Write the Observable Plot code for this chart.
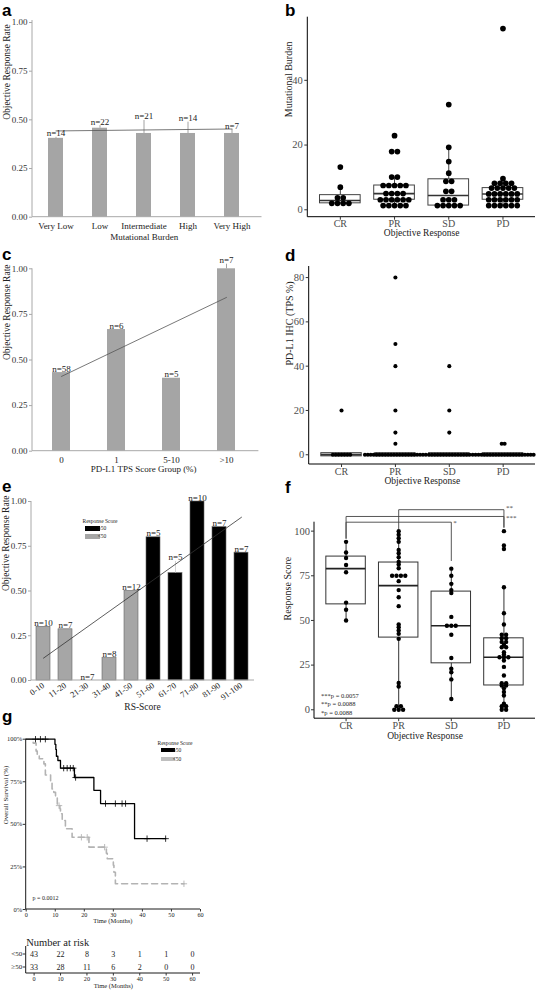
<!DOCTYPE html>
<html><head><meta charset="utf-8">
<script src="https://cdn.jsdelivr.net/npm/d3@7"></script>
<script src="https://cdn.jsdelivr.net/npm/@observablehq/plot@0.6"></script>
<style>
html,body{margin:0;padding:0;background:#fff;}
#fig{position:relative;width:537px;height:992px;overflow:hidden;background:#fff;}
</style></head><body><div id="fig"></div>
<script>
// ---------------- DATA ----------------
// panel a
const mbCats = ["Very Low", "Low", "Intermediate", "High", "Very High"];
const mbRate = [0.405, 0.457, 0.43, 0.43, 0.43];
const mbErrTop = [0.41, 0.47, 0.497, 0.488, 0.45];
const mbN = [14, 22, 21, 14, 7];
const mbTrend = [0.443, 0.453];
// panel b
const respCats = ["CR", "PR", "SD", "PD"];
const tmbCR = [13.2, 7, 3.7, 3.7, 2, 2, 2, 2];
const tmbPR = [22.9, 18, 18, 10.1, 10.1, 7.5, 7.5, 7.5, 7.5, 7.5, 5, 5, 5, 5, 3.1, 3.1, 3.1, 3.1, 3.1, 3.1, 1.3, 1.3, 1.3, 1.3, 1.3];
const tmbSD = [32.5, 19.3, 14.9, 11.3, 8.8, 8.8, 5.7, 5.7, 3.1, 3.1, 3.1, 1.3, 1.3, 1.3, 1.3, 1.3];
const tmbPD = [56, 9.6, 8.2, 8.2, 8.2, 8.2, 6.7, 6.7, 6.7, 6.7, 6.7, 4.9, 4.9, 4.9, 4.9, 4.9, 4.9, 3.1, 3.1, 3.1, 3.1, 3.1, 3.1, 1.3, 1.3, 1.3, 1.3, 1.3, 1.3];
// panel c
const tpsCats = ["0", "1", "5-10", ">10"];
const tpsRate = [0.431, 0.667, 0.40, 1.0];
const tpsErrTop = [0.431, 0.667, 0.40, 1.025];
const tpsN = [58, 6, 5, 7];
const tpsTrend = [0.41, 0.843];
// panel d
const pdlCR = [20, 0, 0, 0, 0, 0, 0, 0];
const pdlPR = [80, 50, 40, 20, 10, 5, 0, 0, 0, 0, 0, 0, 0, 0, 0, 0, 0, 0, 0, 0, 0, 0, 0, 0, 0, 0, 0, 0];
const pdlSD = [40, 20, 10, 0, 0, 0, 0, 0, 0, 0, 0, 0, 0, 0, 0, 0, 0, 0];
const pdlPD = [5, 5, 0, 0, 0, 0, 0, 0, 0, 0, 0, 0, 0, 0, 0, 0, 0, 0, 0, 0, 0, 0, 0, 0];
// panel e
const rsCats = ["0-10", "11-20", "21-30", "31-40", "41-50", "51-60", "61-70", "71-80", "81-90", "91-100"];
const rsRate = [0.30, 0.286, 0, 0.125, 0.5, 0.8, 0.6, 1.0, 0.857, 0.714];
const rsErrTop = [0.30, 0.286, 0, 0.125, 0.5, 0.8, 0.665, 1.0, 0.857, 0.714];
const rsN = [10, 7, 7, 8, 12, 5, 5, 10, 7, 7];
const rsTrend = [0.125, 0.912];
const scoreGroups = ["≥50", "<50"];
// panel f
const rsCR = [94, 88, 85, 81, 77, 60, 56, 50];
const rsPR = [100, 98, 96, 94, 89.5, 87.6, 85.4, 82.8, 81.3, 79.2, 75, 75, 75, 75, 72, 67, 63, 58, 47.7, 46.2, 44.4, 42.5, 39.7, 15, 13, 2, 2, 0, 0, 0];
const rsSD = [79, 75, 70.5, 67, 65.3, 52, 47, 47, 47, 42, 29, 23, 21, 17, 6];
const rsPD = [100, 92, 90, 68.6, 54, 47.7, 42, 42, 40, 40, 38, 38, 36.4, 35, 35, 32.2, 31, 29.4, 29.4, 29.4, 27.6, 24, 19.2, 14.9, 14.9, 13.6, 13.6, 12, 10, 8, 3.4, 2, 2, 0, 0];
const sigPairs = [["PR", "PD"], ["CR", "PD"], ["CR", "SD"]];
const sigLevel = [112, 108.2, 105];
const sigTips = [[101.3, 102.2], [96, 102.2], [96, 83.5]];
const sigStars = ["**", "***", "*"];
const pLabels = ["***p = 0.0057", "**p = 0.0088", "*p = 0.0088"];
// panel g
const kmTimesHigh = [0, 9.9, 10.2, 10.4, 10.9, 11.8, 16.6, 23.3, 25.6, 37.3, 48];
const kmSurvHigh = [1, 0.97, 0.94, 0.90, 0.875, 0.83, 0.775, 0.70, 0.622, 0.416, 0.416];
const kmCensorHigh = [3.2, 4.9, 6.6, 12.9, 14.1, 15.2, 16.2, 17.0, 27.3, 30.7, 33.0, 34.2, 41.6, 48];
const kmTimesLow = [0, 2.4, 3.4, 3.8, 4.5, 6.1, 6.6, 8.4, 8.9, 9.5, 10.1, 10.7, 11.6, 11.8, 12.4, 13.5, 15.8, 21.6, 27.6, 27.9, 30.0, 30.2, 30.7, 54.3];
const kmSurvLow = [1, 0.977, 0.93, 0.91, 0.885, 0.855, 0.79, 0.747, 0.708, 0.688, 0.659, 0.61, 0.591, 0.562, 0.522, 0.474, 0.424, 0.366, 0.33, 0.298, 0.26, 0.219, 0.151, 0.151];
const kmCensorLow = [11.3, 19.0, 21.0, 27.0, 54.3];
const kmP = "p = 0.0012";
// risk table
const riskTimes = [0, 10, 20, 30, 40, 50, 60];
const riskLow = [43, 22, 8, 3, 1, 1, 0];
const riskHigh = [33, 28, 11, 6, 2, 0, 0];

// ---------------- HELPERS ----------------
const SERIF = "'Liberation Serif','Times New Roman',Times,serif";
const INK = "#222";
const fig = document.getElementById("fig");
const baseStyle = {fontFamily: SERIF, fontSize: "9px", background: "transparent", color: INK, overflow: "visible", maxWidth: "none"};
function put(svg, left, top) {
  svg.style.position = "absolute"; svg.style.left = left + "px"; svg.style.top = top + "px";
  fig.appendChild(svg);
}
function frameLines({color = "#000", sw = 1, extendTop = 0, extendRight = 0} = {}) {
  return (index, scales, values, dims) => {
    const {width: W, height: H, marginLeft: ml, marginRight: mr, marginTop: mt, marginBottom: mb} = dims;
    const g = d3.create("svg:g").attr("stroke", color).attr("stroke-width", sw).attr("fill", "none");
    g.append("line").attr("x1", ml).attr("x2", ml).attr("y1", mt - extendTop).attr("y2", H - mb);
    g.append("line").attr("x1", ml).attr("x2", W - mr + extendRight).attr("y1", H - mb).attr("y2", H - mb);
    return g.node();
  };
}
function legendMark({cx, ty, rx, rw, rh, ys, colors, fs, title}) {
  return () => {
    const g = d3.create("svg:g").attr("font-family", SERIF).attr("font-size", fs).attr("fill", INK);
    g.append("text").attr("x", cx).attr("y", ty).attr("text-anchor", "middle").attr("dy", "0.32em").text(title);
    scoreGroups.forEach((lab, i) => {
      g.append("rect").attr("x", rx).attr("y", ys[i]).attr("width", rw).attr("height", rh).attr("fill", colors[i]);
      g.append("text").attr("x", rx + rw + 2).attr("y", ys[i] + rh / 2).attr("dy", "0.32em").text(lab);
    });
    return g.node();
  };
}
function boxStats(values) {
  const s = values.slice().sort(d3.ascending);
  const q1 = d3.quantileSorted(s, 0.25), med = d3.quantileSorted(s, 0.5), q3 = d3.quantileSorted(s, 0.75);
  const iqr = q3 - q1;
  const lo = d3.min(s.filter(v => v >= q1 - 1.5 * iqr)), hi = d3.max(s.filter(v => v <= q3 + 1.5 * iqr));
  return {q1, med, q3, lo, hi};
}
function stackDots(groups, pxPerUnit, spacingPx) {
  const out = [];
  groups.forEach((vals, gi) => {
    const counts = d3.rollup(vals, v => v.length, v => v);
    for (const [v, k] of counts) for (let j = 0; j < k; j++)
      out.push({x: gi + 1 + (j - (k - 1) / 2) * spacingPx / pxPerUnit, y: v});
  });
  return out;
}
function boxes(groups) { return groups.map((vals, i) => ({i: i + 1, ...boxStats(vals)})); }
const catFmt = d => respCats[d - 1];

// ---------------- PANEL A ----------------
{
  const data = mbCats.map((c, i) => ({cat: c, rate: mbRate[i], err: mbErrTop[i], n: mbN[i]}));
  const trend = [{cat: mbCats[0], v: mbTrend[0]}, {cat: mbCats[mbCats.length - 1], v: mbTrend[1]}];
  put(Plot.plot({
    width: 268, height: 248, marginLeft: 32, marginRight: 12.5, marginTop: 22, marginBottom: 31.3,
    style: baseStyle,
    x: {type: "band", domain: mbCats, paddingInner: 0.66, paddingOuter: 0.33},
    y: {domain: [0, 1]},
    marks: [
      Plot.barY(data, {x: "cat", y: "rate", fill: "#a5a5a5"}),
      Plot.ruleX(data, {x: "cat", y1: "rate", y2: "err", stroke: "#8a8a8a", strokeWidth: 0.8}),
      frameLines({color: "#a8a8a8", extendTop: 2, extendRight: 6}),
      Plot.axisY({ticks: [0, 0.25, 0.5, 0.75, 1], tickFormat: ".2f", tickSize: 3, tickPadding: 2, fontSize: 9, stroke: "#a8a8a8", fill: "#333", label: null}),
      Plot.axisX({tickSize: 0, tickPadding: 5.5, fontSize: 9, fill: INK, label: null}),
      Plot.line(trend, {x: "cat", y: "v", stroke: "#555", strokeWidth: 0.8}),
      Plot.text(data, {x: "cat", y: "err", text: d => `n=${d.n}`, lineAnchor: "bottom", dy: -1, fontSize: 9, fill: INK}),
      Plot.text(["Mutational Burden"], {text: d => d, frameAnchor: "bottom", dy: 22.3, fontSize: 9, fill: INK}),
      Plot.text(["Objective Response Rate"], {text: d => d, frameAnchor: "left", rotate: -90, dx: -26, fontSize: 9.5, fill: INK})
    ]
  }), 0, 0);
}

// ---------------- PANEL B ----------------
{
  const W = 269, ml = 39.3, mr = 2;
  const groups = [tmbCR, tmbPR, tmbSD, tmbPD];
  const dots = stackDots(groups, (W - ml - mr) / 4.2, 5.7);
  const bx = boxes(groups);
  put(Plot.plot({
    width: W, height: 248, marginLeft: ml, marginRight: mr, marginTop: 16.7, marginBottom: 31.3,
    style: baseStyle,
    x: {domain: [0.4, 4.6]},
    y: {domain: [-2.29, 59.5]},
    marks: [
      Plot.ruleX(bx, {x: "i", y1: "lo", y2: "hi", stroke: "#444"}),
      Plot.rect(bx, {x1: d => d.i - 0.375, x2: d => d.i + 0.375, y1: "q1", y2: "q3", fill: "white", stroke: "#444"}),
      Plot.ruleY(bx, {x1: d => d.i - 0.375, x2: d => d.i + 0.375, y: "med", stroke: "#333", strokeWidth: 1.6}),
      Plot.dot(dots, {x: "x", y: "y", r: 2.85, fill: "black"}),
      frameLines({color: "#000"}),
      Plot.axisY({ticks: [0, 20, 40], tickSize: 3, tickPadding: 2, fontSize: 10.5, fill: "#4d4d4d", stroke: "#333", label: null}),
      Plot.axisX({ticks: [1, 2, 3, 4], tickFormat: catFmt, tickSize: 3, tickPadding: 0, fontSize: 10, fill: "#4d4d4d", stroke: "#333", label: null}),
      Plot.text(["Objective Response"], {text: d => d, frameAnchor: "bottom", dy: 19, fontSize: 9.5, fill: INK}),
      Plot.text(["Mutational Burden"], {text: d => d, frameAnchor: "left", rotate: -90, dx: -19.3, fontSize: 10, fill: INK})
    ]
  }), 268, 0);
}

// ---------------- PANEL C ----------------
{
  const data = tpsCats.map((c, i) => ({cat: c, rate: tpsRate[i], err: tpsErrTop[i], n: tpsN[i]}));
  const trend = [{cat: tpsCats[0], v: tpsTrend[0]}, {cat: tpsCats[tpsCats.length - 1], v: tpsTrend[1]}];
  put(Plot.plot({
    width: 268, height: 235, marginLeft: 32, marginRight: 13.6, marginTop: 23.3, marginBottom: 29.3,
    style: baseStyle,
    x: {type: "band", domain: tpsCats, paddingInner: 0.68, paddingOuter: 0.34},
    y: {domain: [0, 1]},
    marks: [
      Plot.barY(data, {x: "cat", y: "rate", fill: "#a5a5a5"}),
      Plot.ruleX(data, {x: "cat", y1: "rate", y2: "err", stroke: "#8a8a8a", strokeWidth: 0.8}),
      frameLines({color: "#a8a8a8", extendRight: 4}),
      Plot.axisY({ticks: [0, 0.25, 0.5, 0.75, 1], tickFormat: ".2f", tickSize: 3, tickPadding: 2, fontSize: 9, stroke: "#a8a8a8", fill: "#333", label: null}),
      Plot.axisX({tickSize: 0, tickPadding: 5, fontSize: 9, fill: INK, label: null}),
      Plot.line(trend, {x: "cat", y: "v", stroke: "#555", strokeWidth: 0.8}),
      Plot.text(data, {x: "cat", y: "err", text: d => `n=${d.n}`, lineAnchor: "bottom", dy: -1, fontSize: 9, fill: INK}),
      Plot.text(["PD-L1 TPS Score Group (%)"], {text: d => d, frameAnchor: "bottom", dy: 20.8, fontSize: 9, fill: INK}),
      Plot.text(["Objective Response Rate"], {text: d => d, frameAnchor: "left", rotate: -90, dx: -26, fontSize: 9.5, fill: INK})
    ]
  }), 0, 245);
}

// ---------------- PANEL D ----------------
{
  const W = 269, ml = 40.7, mr = 2;
  const groups = [pdlCR, pdlPR, pdlSD, pdlPD];
  const dots = stackDots(groups, (W - ml - mr) / 4.2, 2.9);
  const bx = boxes(groups);
  put(Plot.plot({
    width: W, height: 245, marginLeft: ml, marginRight: mr, marginTop: 21, marginBottom: 26,
    style: baseStyle,
    x: {domain: [0.4, 4.6]},
    y: {domain: [-4.4, 85]},
    marks: [
      Plot.ruleX(bx, {x: "i", y1: "lo", y2: "hi", stroke: "#444"}),
      Plot.rect(bx, {x1: d => d.i - 0.375, x2: d => d.i + 0.375, y1: "q1", y2: "q3", insetTop: -1.6, insetBottom: -1.6, fill: "#bbb", stroke: "#444"}),
      Plot.ruleY(bx, {x1: d => d.i - 0.375, x2: d => d.i + 0.375, y: "med", stroke: "#333", strokeWidth: 1.4}),
      Plot.dot(dots, {x: "x", y: "y", r: 2.05, fill: "black"}),
      frameLines({color: "#000"}),
      Plot.axisY({ticks: [0, 20, 40, 60, 80], tickSize: 3, tickPadding: 2, fontSize: 10.5, fill: "#4d4d4d", stroke: "#333", label: null}),
      Plot.axisX({ticks: [1, 2, 3, 4], tickFormat: catFmt, tickSize: 3, tickPadding: 0, fontSize: 10, fill: "#4d4d4d", stroke: "#333", label: null}),
      Plot.text(["Objective Response"], {text: d => d, frameAnchor: "bottom", dy: 19.8, fontSize: 9.5, fill: INK}),
      Plot.text(["PD-L1 IHC (TPS %)"], {text: d => d, frameAnchor: "left", rotate: -90, dx: -19, fontSize: 10, fill: INK})
    ]
  }), 268, 245);
}

// ---------------- PANEL E ----------------
{
  const data = rsCats.map((c, i) => ({cat: c, rate: rsRate[i], err: rsErrTop[i], n: rsN[i],
    group: +c.split("-")[1] <= 50 ? "<50" : "≥50"}));
  const trend = [{cat: rsCats[0], v: rsTrend[0]}, {cat: rsCats[rsCats.length - 1], v: rsTrend[1]}];
  put(Plot.plot({
    width: 268, height: 237, marginLeft: 31, marginRight: 15, marginTop: 23, marginBottom: 35,
    style: baseStyle,
    x: {type: "band", domain: rsCats, paddingInner: 0.37, paddingOuter: 0.185},
    y: {domain: [0, 1]},
    color: {domain: scoreGroups, range: ["#000000", "#a6a6a6"]},
    marks: [
      Plot.barY(data, {x: "cat", y: "rate", fill: "group", stroke: "#666", strokeWidth: 0.6}),
      Plot.ruleX(data, {x: "cat", y1: "rate", y2: "err", stroke: "#c8c8c8", strokeWidth: 0.8}),
      frameLines({color: "#a8a8a8", extendRight: 1}),
      Plot.axisY({ticks: [0, 0.25, 0.5, 0.75, 1], tickFormat: ".2f", tickSize: 3, tickPadding: 2, fontSize: 9, stroke: "#a8a8a8", fill: "#333", label: null}),
      Plot.axisX({tickSize: 0, tickPadding: 4, tickRotate: -35, fontSize: 8.5, fill: INK, label: null}),
      Plot.line(trend, {x: "cat", y: "v", stroke: "#333", strokeWidth: 0.8}),
      Plot.text(data, {x: "cat", y: "err", text: d => `n=${d.n}`, lineAnchor: "bottom", dy: -1, fontSize: 9, fill: INK}),
      legendMark({cx: 100, ty: 43.7, rx: 85, rw: 15, rh: 5, ys: [48, 56], colors: ["#000", "#a6a6a6"], fs: 5.5, title: "Response Score"}),
      Plot.text(["RS-Score"], {text: d => d, frameAnchor: "bottom", dy: 29, fontSize: 9.5, fill: INK}),
      Plot.text(["Objective Response Rate"], {text: d => d, frameAnchor: "left", rotate: -90, dx: -26, fontSize: 9.5, fill: INK})
    ]
  }), 0, 478);
}

// ---------------- PANEL F ----------------
{
  const W = 269, ml = 46, mr = 2;
  const groups = [rsCR, rsPR, rsSD, rsPD];
  const dots = stackDots(groups, (W - ml - mr) / 4.2, 4.4);
  const bx = boxes(groups);
  const idx = c => respCats.indexOf(c) + 1;
  const brackets = [];
  sigPairs.forEach(([a, b], k) => {
    brackets.push({k, x: idx(a), y: sigTips[k][0]}, {k, x: idx(a), y: sigLevel[k]},
                  {k, x: idx(b), y: sigLevel[k]}, {k, x: idx(b), y: sigTips[k][1]});
  });
  const starDy = [0.5, 4, 3];
  const starMarks = sigPairs.map(([a, b], k) =>
    Plot.text([{x: idx(b), y: sigLevel[k], t: sigStars[k]}], {x: "x", y: "y", text: "t", textAnchor: "start", lineAnchor: "bottom", dx: 2, dy: starDy[k], fontSize: 7, fill: "#444"}));
  put(Plot.plot({
    width: W, height: 255, marginLeft: ml, marginRight: mr, marginTop: 31.7, marginBottom: 26.8,
    style: baseStyle,
    x: {domain: [0.4, 4.6]},
    y: {domain: [-5, 105]},
    marks: [
      Plot.ruleX(bx, {x: "i", y1: "lo", y2: "hi", stroke: "#333"}),
      Plot.rect(bx, {x1: d => d.i - 0.375, x2: d => d.i + 0.375, y1: "q1", y2: "q3", fill: "white", stroke: "#333"}),
      Plot.ruleY(bx, {x1: d => d.i - 0.375, x2: d => d.i + 0.375, y: "med", stroke: "#222", strokeWidth: 1.6}),
      Plot.dot(dots, {x: "x", y: "y", r: 2.2, fill: "black"}),
      Plot.line(brackets, {x: "x", y: "y", z: "k", stroke: "#444", strokeWidth: 0.9}),
      ...starMarks,
      Plot.text([pLabels.join("\n")], {text: d => d, frameAnchor: "bottom-left", textAnchor: "start", lineAnchor: "bottom", lineHeight: 1.3, dx: 6.5, dy: -4, fontSize: 6.5, fill: INK}),
      frameLines({color: "#000"}),
      Plot.axisY({ticks: [0, 25, 50, 75, 100], tickSize: 3, tickPadding: 1.5, fontSize: 10.5, fill: "#4d4d4d", stroke: "#333", label: null}),
      Plot.axisX({ticks: [1, 2, 3, 4], tickFormat: catFmt, tickSize: 3, tickPadding: 0, fontSize: 10, fill: "#4d4d4d", stroke: "#333", label: null}),
      Plot.text(["Objective Response"], {text: d => d, frameAnchor: "bottom", dy: 20.4, fontSize: 9.5, fill: INK}),
      Plot.text(["Response Score"], {text: d => d, frameAnchor: "left", rotate: -90, dx: -26.7, fontSize: 10, fill: INK})
    ]
  }), 268, 490);
}

// ---------------- PANEL G ----------------
{
  const high = kmTimesHigh.map((t, i) => ({t, s: kmSurvHigh[i]}));
  const low = kmTimesLow.map((t, i) => ({t, s: kmSurvLow[i]}));
  const survAt = (curve, t) => { let s = 1; for (const p of curve) if (p.t <= t) s = p.s; return s; };
  const cHigh = kmCensorHigh.map(t => ({t, s: survAt(high, t)}));
  const cLow = kmCensorLow.map(t => ({t, s: survAt(low, t)}));
  put(Plot.plot({
    width: 268, height: 222, marginLeft: 25.7, marginRight: 68, marginTop: 33.7, marginBottom: 18,
    style: baseStyle,
    x: {domain: [0, 60]},
    y: {domain: [0, 1]},
    marks: [
      Plot.line(low, {x: "t", y: "s", curve: "step-after", stroke: "#b3b3b3", strokeWidth: 1.6, strokeDasharray: "6,4"}),
      Plot.dot(cLow, {x: "t", y: "s", symbol: "plus", r: 2.2, stroke: "#b3b3b3", strokeWidth: 0.9}),
      Plot.line(high, {x: "t", y: "s", curve: "step-after", stroke: "#000", strokeWidth: 1.3}),
      Plot.dot(cHigh, {x: "t", y: "s", symbol: "plus", r: 2.2, stroke: "#000", strokeWidth: 0.8}),
      frameLines({color: "#000", sw: 0.9}),
      Plot.axisY({ticks: [0, 0.25, 0.5, 0.75, 1], tickFormat: d => `${Math.round(d * 100)}%`, tickSize: 3, tickPadding: 1, fontSize: 6.5, fill: INK, stroke: "#333", label: null}),
      Plot.axisX({ticks: [0, 10, 20, 30, 40, 50, 60], tickSize: 2.5, tickPadding: 0.5, fontSize: 6.2, fill: INK, stroke: "#333", label: null}),
      Plot.text([kmP], {text: d => d, frameAnchor: "bottom-left", textAnchor: "start", dx: 6.3, dy: -9.7, fontSize: 6, fill: INK}),
      legendMark({cx: 175, ty: 38.3, rx: 161, rw: 14, rh: 4, ys: [43, 52], colors: ["#000", "#bfbfbf"], fs: 5.5, title: "Response Score"}),
      Plot.text(["Time (Months)"], {text: d => d, frameAnchor: "bottom", dx: -0.5, dy: 13.6, fontSize: 6.5, fill: INK}),
      Plot.text(["Overall Survival (%)"], {text: d => d, frameAnchor: "left", rotate: -90, dx: -20.7, fontSize: 7, fill: INK})
    ]
  }), 0, 705);
}

// ---------------- RISK TABLE ----------------
{
  const risk = [];
  riskTimes.forEach((t, i) => { risk.push({t, g: "<50", n: riskLow[i]}, {t, g: "≥50", n: riskHigh[i]}); });
  put(Plot.plot({
    width: 268, height: 65, marginLeft: 25.7, marginRight: 68, marginTop: 19, marginBottom: 19,
    style: baseStyle,
    x: {domain: [-3, 63]},
    y: {type: "band", domain: ["<50", "≥50"], padding: 0},
    marks: [
      Plot.text(risk, {x: "t", y: "g", text: "n", fontSize: 8, fill: INK}),
      frameLines({color: "#000", sw: 0.9}),
      Plot.axisY({tickSize: 3, tickPadding: 1, fontSize: 7, fill: INK, stroke: "#333", label: null}),
      Plot.axisX({ticks: riskTimes, tickSize: 2.5, tickPadding: 0.5, fontSize: 6.2, fill: INK, stroke: "#333", label: null}),
      Plot.text(["Number at risk"], {text: d => d, frameAnchor: "top-left", textAnchor: "start", dy: -8.3, fontSize: 10.5, fill: INK}),
      Plot.text(["Time (Months)"], {text: d => d, frameAnchor: "bottom", dy: 14, fontSize: 6.5, fill: INK})
    ]
  }), 0, 927);
}

// ---------------- PANEL LETTERS ----------------
{
  const letters = [["a", 2, 15.5], ["b", 285, 15.5], ["c", 2, 260], ["d", 285, 261], ["e", 2, 492], ["f", 285, 493], ["g", 2, 722]];
  const svg = d3.create("svg").attr("width", 537).attr("height", 992)
    .style("position", "absolute").style("left", "0px").style("top", "0px").style("pointer-events", "none");
  svg.selectAll("text").data(letters).join("text")
    .attr("x", d => d[1]).attr("y", d => d[2]).text(d => d[0])
    .attr("font-family", "'Liberation Sans',Arial,sans-serif").attr("font-weight", "bold").attr("font-size", 17);
  fig.appendChild(svg.node());
}
</script></body></html>
